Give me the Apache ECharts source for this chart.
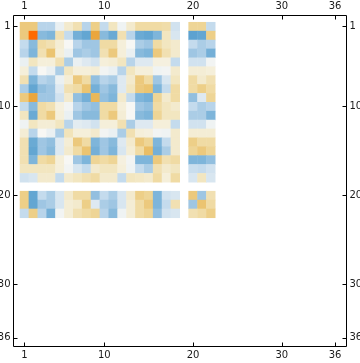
<!DOCTYPE html>
<html>
<head>
<meta charset="utf-8">
<script src="https://cdn.jsdelivr.net/npm/echarts@6/dist/echarts.min.js"></script>
<style>html,body{margin:0;padding:0;background:#fff;}#c{width:360px;height:363px;}</style>
</head>
<body>
<div id="c"></div>
<script>
const categories = Array.from({length: 36}, (_, i) => String(i + 1));
const tickLabels = ['1', '10', '20', '30', '36'];
const matrix = [
  [0.45,0.45,-0.25,-0.25,-0.05,0.15,0.25,-0.25,0.4,-0.2,0.2,-0.03,0.15,0.3,0.3,0.3,0.28,-0.15,null,0.35,0.35,-0.2],
  [0.45,1.0,-0.45,-0.5,0.25,-0.2,-0.55,-0.65,0.7,-0.45,-0.6,0.25,-0.25,-0.6,-0.65,-0.5,0.2,-0.12,null,-0.7,-0.65,0.4],
  [-0.2,-0.45,0.3,0.25,0.12,0.0,-0.25,-0.35,-0.35,0.3,0.3,0.1,0.0,-0.3,-0.35,0.3,0.2,0.15,null,-0.2,-0.3,-0.25],
  [-0.25,-0.5,0.25,0.5,0.1,-0.05,-0.35,-0.3,-0.35,0.25,0.45,0.1,-0.05,-0.45,-0.5,0.45,0.25,0.15,null,-0.35,-0.3,-0.55],
  [-0.05,0.2,0.1,0.1,0.25,-0.3,-0.05,-0.1,-0.15,0.1,0.12,0.2,-0.25,-0.1,-0.1,0.08,0.08,-0.2,null,-0.15,-0.15,-0.02],
  [0.1,-0.2,0.0,-0.05,-0.3,0.2,0.1,0.1,0.12,-0.02,-0.05,-0.25,0.2,0.1,0.1,-0.03,-0.02,0.15,null,0.12,0.12,0.1],
  [0.25,-0.5,-0.25,-0.3,-0.05,0.12,0.45,0.3,-0.4,-0.25,-0.3,-0.1,0.15,0.45,0.3,-0.35,-0.12,0.2,null,0.3,0.15,0.25],
  [-0.3,-0.65,-0.4,-0.35,-0.1,0.25,0.3,0.5,-0.55,-0.35,-0.45,-0.1,0.2,0.45,0.5,-0.5,-0.2,0.3,null,0.3,0.4,0.3],
  [0.45,0.7,-0.35,-0.35,-0.15,0.15,-0.4,-0.55,0.6,-0.4,-0.5,0.15,-0.2,-0.5,-0.55,0.35,0.15,0.3,null,-0.4,-0.1,0.35],
  [-0.2,-0.45,0.3,0.25,0.08,-0.02,-0.25,-0.35,-0.4,0.3,0.3,0.1,0.0,-0.35,-0.4,0.3,0.2,0.15,null,-0.2,-0.3,-0.25],
  [0.2,-0.6,0.3,0.45,0.1,-0.05,-0.35,-0.45,-0.45,0.3,0.45,0.12,0.0,-0.45,-0.5,0.35,0.2,0.2,null,-0.3,-0.3,-0.5],
  [-0.03,0.2,0.12,0.12,0.2,-0.25,-0.08,-0.1,-0.15,0.1,0.1,0.25,-0.3,-0.1,-0.1,0.1,0.1,-0.2,null,-0.15,-0.15,-0.03],
  [0.12,-0.25,0.0,-0.05,-0.3,0.22,0.1,0.1,0.15,-0.02,-0.05,-0.3,0.25,0.1,0.08,-0.02,-0.03,0.15,null,0.12,0.12,0.12],
  [0.25,-0.6,-0.35,-0.4,-0.1,0.12,0.45,0.3,-0.5,-0.35,-0.45,-0.1,0.15,0.45,0.35,-0.5,-0.2,0.15,null,0.4,0.3,0.3],
  [0.25,-0.65,-0.35,-0.45,-0.1,0.15,0.3,0.5,-0.55,-0.35,-0.5,-0.12,0.12,0.3,0.55,-0.55,-0.3,0.15,null,0.35,0.45,0.35],
  [0.25,-0.5,0.3,0.35,0.1,0.0,-0.35,-0.5,0.35,0.3,0.35,0.08,-0.02,-0.5,-0.5,0.45,0.25,0.3,null,-0.5,-0.5,-0.4],
  [0.2,0.2,0.2,0.2,0.1,-0.02,-0.12,-0.2,0.15,0.2,0.2,0.1,-0.03,-0.2,-0.3,0.25,0.15,0.2,null,-0.18,-0.2,-0.15],
  [-0.15,-0.12,0.15,0.15,-0.2,0.15,0.2,0.25,0.3,0.15,0.15,-0.2,0.2,0.18,0.15,0.3,0.1,0.3,null,-0.12,0.2,-0.12],
  [null,null,null,null,null,null,null,null,null,null,null,null,null,null,null,null,null,null,null,null,null,null],
  [0.4,-0.65,-0.2,-0.3,-0.12,0.15,0.3,0.3,-0.4,-0.2,-0.3,-0.12,0.15,0.4,0.35,-0.5,-0.15,-0.12,null,0.45,-0.35,0.25],
  [0.4,-0.65,-0.35,-0.3,-0.12,0.12,0.15,0.4,-0.1,-0.3,-0.35,-0.12,0.12,0.3,0.45,-0.5,-0.2,0.25,null,-0.35,0.5,0.3],
  [-0.2,0.4,-0.25,-0.55,-0.02,0.12,0.25,0.3,0.35,-0.25,-0.45,-0.03,0.12,0.3,0.35,-0.4,-0.15,-0.12,null,0.25,0.3,0.4]
];

const data = [];
matrix.forEach((row, i) => row.forEach((v, j) => { if (v !== null) data.push([j, i, v]); }));

const showIdx = (idx) => tickLabels.indexOf(String(idx + 1)) >= 0;
const labelStyle = { fontSize: 10, color: '#1a1a1a', fontFamily: 'DejaVu Sans', interval: showIdx };
const tickStyle = { show: true, inside: true, length: 4, alignWithLabel: true, interval: showIdx, lineStyle: { color: '#000', width: 1 } };

function xAx(pos, offset) {
  return { type: 'category', data: categories, position: pos, offset: offset, gridIndex: 0,
    axisLine: { show: false }, axisTick: tickStyle, axisLabel: Object.assign({ margin: 4 }, labelStyle), splitLine: { show: false } };
}
function yAx(pos, offset) {
  return { type: 'category', data: categories, position: pos, offset: offset, inverse: true, gridIndex: 0,
    axisLine: { show: false }, axisTick: tickStyle, axisLabel: Object.assign({ margin: 3 }, labelStyle), splitLine: { show: false } };
}

const chart = echarts.init(document.getElementById('c'), null, { renderer: 'canvas' });
chart.setOption({
  animation: false,
  backgroundColor: '#fff',
  grid: { left: 20, right: 20.5, top: 22.2, bottom: 20.7, containLabel: false, outerBoundsMode: 'none' },
  xAxis: [xAx('top', 6.7), xAx('bottom', 4.2)],
  yAxis: [yAx('left', 6.5), yAx('right', 7)],
  visualMap: {
    show: false, type: 'continuous', min: -1, max: 1, dimension: 2, seriesIndex: 0,
    inRange: { color: ['#3a88c4', '#4f99cc', '#6aaad4', '#92bfdf', '#c4dbed', '#f7f7f4', '#f2e6c0', '#edcf88', '#e9b85a', '#eb9420', '#ff6a00'] }
  },
  series: [{
    type: 'heatmap', xAxisIndex: 0, yAxisIndex: 0, data: data,
    itemStyle: { borderWidth: 0 }, emphasis: { disabled: true }
  }],
  graphic: [{
    type: 'rect', shape: { x: 13.5, y: 15.5, width: 333, height: 331 },
    style: { fill: 'none', stroke: '#000', lineWidth: 1 }, silent: true, z: 10
  }]
});
</script>
</body>
</html>
